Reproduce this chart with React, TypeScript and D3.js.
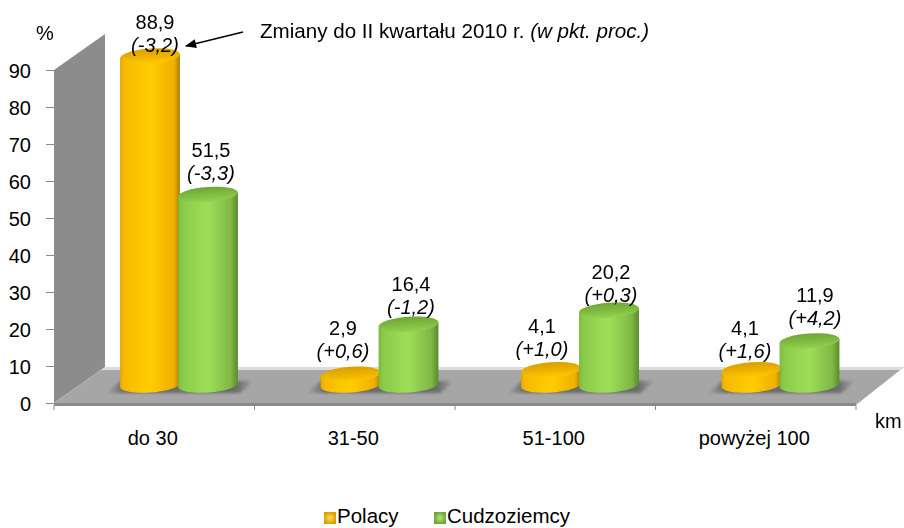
import React, { useEffect, useRef } from 'react';
import * as d3 from 'd3';

const categories = ['do 30', '31-50', '51-100', 'powyżej 100'];
const seriesNames = ['Polacy', 'Cudzoziemcy'];
const polacy = [88.9, 2.9, 4.1, 4.1];
const cudzoziemcy = [51.5, 16.4, 20.2, 11.9];
const polacyChange = ['(-3,2)', '(+0,6)', '(+1,0)', '(+1,6)'];
const cudzoziemcyChange = ['(-3,3)', '(-1,2)', '(+0,3)', '(+4,2)'];
const yTicks = [0, 10, 20, 30, 40, 50, 60, 70, 80, 90];

const width = 904;
const height = 528;
const font = '"Liberation Sans", Arial, sans-serif';
const fontSize = '20px';
const depth = 18; // bars stand this far behind the front edge of the floor
const rx = 30;
const ry = 7.5;
const tilt = -4;

// hand placed in the original, so the labels don't follow a single rule
const labelX = [[155, 343, 542, 745], [211, 411, 611, 815]];
const labelY = [[29, 335, 333, 335], [157, 291, 279, 302]];

const fmt = (v: number) => String(v).replace('.', ',');

const App = () => {
  const svgRef = useRef<SVGSVGElement>(null);

  useEffect(() => {
    const svg = d3.select(svgRef.current);
    svg.selectAll('*').remove();
    svg.style('font-family', font).style('font-size', fontSize);

    const x = d3.scaleBand().domain(categories).range([54, 856]);
    const inner = d3.scaleBand().domain(seriesNames).range([67, 183]);
    const y = d3.scaleLinear().domain([0, 90]).range([403, 70]);

    const defs = svg.append('defs');
    const grad = (id: string, stops: [number, string][], horizontal = true) => {
      const g = defs.append('linearGradient').attr('id', id)
        .attr('x1', 0).attr('y1', 0).attr('x2', horizontal ? 1 : 0).attr('y2', horizontal ? 0 : 1);
      stops.forEach(([o, c]) => g.append('stop').attr('offset', o).attr('stop-color', c));
    };
    const radial = (id: string, stops: [number, string][]) => {
      const g = defs.append('radialGradient').attr('id', id);
      stops.forEach(([o, c]) => g.append('stop').attr('offset', o).attr('stop-color', c));
    };
    grad('yellowSide', [[0, '#e3a400'], [0.06, '#f7b800'], [0.5, '#ffcd00'], [0.9, '#f0b000'], [1, '#a97f08']]);
    grad('yellowTop', [[0, '#d9a000'], [0.55, '#edb300'], [1, '#ffca00']], false);
    grad('greenSide', [[0, '#7db83f'], [0.08, '#8bcb4b'], [0.5, '#9ede58'], [0.88, '#7fb845'], [1, '#5a8a2c']]);
    grad('greenTop', [[0, '#6fa636'], [0.6, '#82bf42'], [1, '#93d24f']], false);
    grad('floorShadow', [[0, '#a6a6a6'], [0.12, '#6a6a6a'], [0.88, '#6a6a6a'], [1, '#a6a6a6']]);
    radial('yellowKey', [[0, '#ffe060'], [1, '#d9a000']]);
    radial('greenKey', [[0, '#b5e68a'], [1, '#6fa636']]);
    defs.append('filter').attr('id', 'soft').append('feGaussianBlur').attr('stdDeviation', 0.5);
    defs.append('filter').attr('id', 'shadowBlur').append('feGaussianBlur').attr('stdDeviation', 1.5);
    defs.append('marker').attr('id', 'arrow').attr('viewBox', '0 0 10 8').attr('refX', 9).attr('refY', 4)
      .attr('markerWidth', 12).attr('markerHeight', 9).attr('markerUnits', 'userSpaceOnUse').attr('orient', 'auto')
      .append('path').attr('d', 'M0,0L10,4L0,8Z').attr('fill', '#000');

    // wall and floor
    const line = d3.line();
    const [x0, x1] = x.range();
    const wallX = x0 + 51;
    const backY = y(0) - 36;
    svg.append('path').attr('fill', '#8c8c8c')
      .attr('d', line([[x0, y(90)], [wallX, y(90) - 36], [wallX, backY], [x0, y(0)]]) + 'Z');
    svg.append('path').attr('fill', '#a6a6a6')
      .attr('d', line([[x0, y(0)], [wallX, backY], [width, backY], [x1, y(0) + 2]]) + 'Z');
    svg.append('path').attr('fill', '#dcdcdc')
      .attr('d', line([[wallX, backY], [width, backY], [width - 3, backY + 3], [wallX - 4, backY + 3]]) + 'Z');
    svg.append('rect').attr('x', x0).attr('y', y(0)).attr('width', x1 - x0).attr('height', 3).attr('fill', '#8a8a8a');

    // axes
    const yAxis = svg.append('g').attr('transform', `translate(${x0},0)`)
      .call(d3.axisLeft(y).tickValues(yTicks).tickSize(8).tickPadding(15));
    yAxis.select('.domain').remove();
    yAxis.selectAll('.tick text').attr('dy', '0.38em');
    const xAxis = svg.append('g').attr('transform', `translate(-1.5,${y(0) + 2})`)
      .call(d3.axisBottom(x).tickSize(0).tickPadding(26));
    xAxis.select('.domain').remove();
    svg.append('g').selectAll('line')
      .data([...categories.map(c => x(c) as number), x1])
      .join('line')
      .attr('x1', d => d).attr('x2', d => d)
      .attr('y1', y(0) + 2).attr('y2', y(0) + 7)
      .attr('stroke', '#8a8a8a');
    svg.selectAll('.tick line').attr('stroke', '#8a8a8a');
    svg.selectAll('.tick text').attr('fill', '#000').style('font-family', font).style('font-size', fontSize);

    // cylinders
    const series = [
      { name: seriesNames[0], values: polacy, side: 'yellowSide', top: 'yellowTop', key: 'yellowKey', change: polacyChange },
      { name: seriesNames[1], values: cudzoziemcy, side: 'greenSide', top: 'greenTop', key: 'greenKey', change: cudzoziemcyChange },
    ];
    const rad = (tilt * Math.PI) / 180;
    const dx = rx * Math.cos(rad);
    const dy = rx * Math.sin(rad);

    categories.forEach(cat => {
      const left = x(cat) as number;
      svg.append('path').attr('fill', 'url(#floorShadow)').attr('filter', 'url(#shadowBlur)')
        .attr('d', line([
          [left + 52, y(0) - 10], [left + 68, y(0) - 23], [left + 200, y(0) - 22], [left + 186, y(0) - 10],
        ]) + 'Z');
    });

    // lower half of the tilted ellipse, left end to right end
    const lowerEdge = (cx: number, cy: number) =>
      d3.range(0, 25).map(k => {
        const t = Math.PI - (k / 24) * Math.PI;
        return [
          cx + rx * Math.cos(t) * Math.cos(rad) - ry * Math.sin(t) * Math.sin(rad),
          cy + rx * Math.cos(t) * Math.sin(rad) + ry * Math.sin(t) * Math.cos(rad),
        ] as [number, number];
      });

    series.forEach(s => {
      const g = svg.append('g').attr('filter', 'url(#soft)');
      s.values.forEach((v, i) => {
        const cx = (x(categories[i]) as number) + (inner(s.name) as number) + inner.bandwidth() / 2;
        const baseY = y(0) - depth;
        const topY = y(v) - depth;
        g.append('path').attr('fill', `url(#${s.side})`)
          .attr('d', line([[cx - dx, topY - dy], ...lowerEdge(cx, baseY), [cx + dx, topY + dy]]) + 'Z');
        g.append('ellipse').attr('cx', cx).attr('cy', topY).attr('rx', rx).attr('ry', ry)
          .attr('transform', `rotate(${tilt} ${cx} ${topY})`)
          .attr('fill', `url(#${s.top})`);
      });
    });

    // value labels, second line is the change in percentage points
    series.forEach((s, si) => {
      const t = svg.append('g').attr('text-anchor', 'middle').attr('fill', '#000');
      s.values.forEach((v, i) => {
        t.append('text').attr('x', labelX[si][i]).attr('y', labelY[si][i]).text(fmt(v));
        t.append('text').attr('x', labelX[si][i]).attr('y', labelY[si][i] + 23)
          .attr('font-style', 'italic').text(s.change[i]);
      });
    });

    // annotation
    svg.append('line').attr('x1', 243).attr('y1', 32).attr('x2', 186).attr('y2', 46)
      .attr('stroke', '#000').attr('stroke-width', 1.5).attr('marker-end', 'url(#arrow)');
    const note = svg.append('text').attr('x', 260).attr('y', 38).attr('fill', '#000').style('font-size', '20.6px');
    note.append('tspan').text('Zmiany do II kwartału 2010 r. ');
    note.append('tspan').attr('font-style', 'italic').text('(w pkt. proc.)');

    svg.append('text').attr('x', 36).attr('y', 40).text('%');
    svg.append('text').attr('x', 875).attr('y', 428).text('km');

    // legend
    const legendX = [324, 434];
    seriesNames.forEach((name, i) => {
      const g = svg.append('g').attr('transform', `translate(${legendX[i]},512)`);
      g.append('rect').attr('width', 12).attr('height', 12).attr('fill', `url(#${series[i].key})`);
      g.append('text').attr('x', 13).attr('y', 11).style('font-size', '20.5px').text(name);
    });
  }, []);

  return (
    <svg ref={svgRef} width={width} height={height}
      style={{ position: 'absolute', left: 0, top: 0, background: '#fff' }} />
  );
};

export default App;
